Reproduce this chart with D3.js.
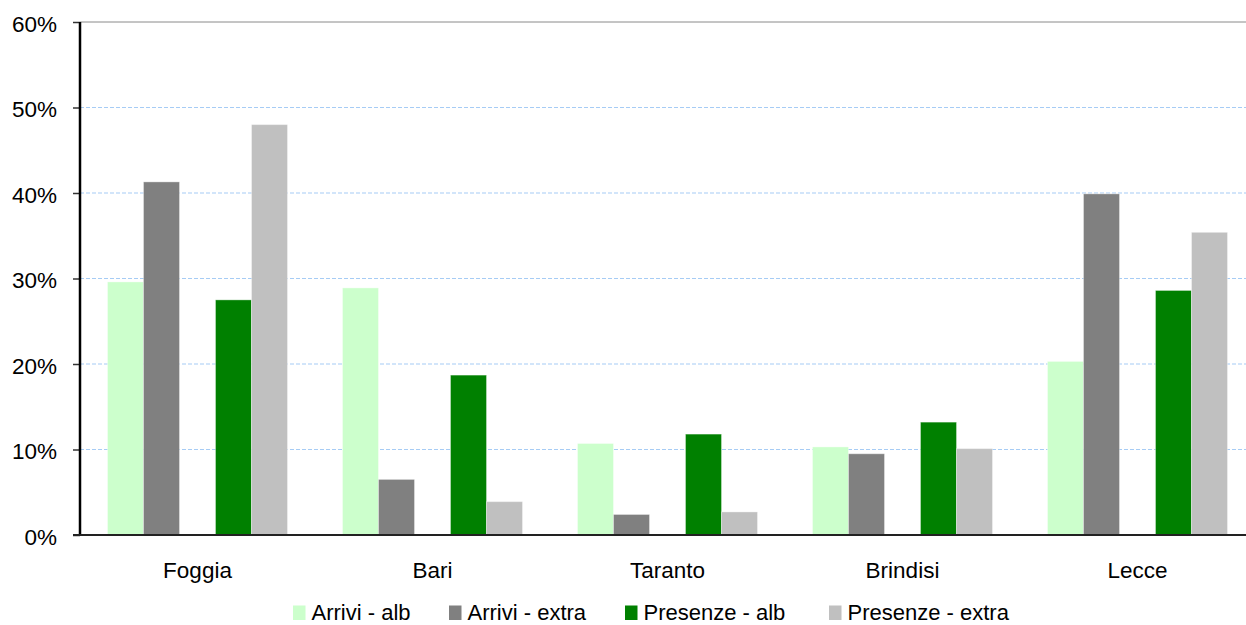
<!DOCTYPE html>
<html>
<head>
<meta charset="utf-8">
<script src="https://cdn.jsdelivr.net/npm/d3@7"></script>
<style>
  html, body { margin: 0; padding: 0; background: #fff; }
  svg text { font-family: "Liberation Sans", Arial, sans-serif; fill: #000; }
</style>
</head>
<body>
<svg id="chart" width="1246" height="625"></svg>
<script>
const categories = ["Foggia", "Bari", "Taranto", "Brindisi", "Lecce"];
const seriesNames = ["Arrivi - alb", "Arrivi - extra", "Presenze - alb", "Presenze - extra"];
const seriesColors = ["#CCFFCC", "#808080", "#008000", "#C0C0C0"];
const arriviAlb = [29.6, 28.9, 10.7, 10.3, 20.3];
const arriviExtra = [41.3, 6.5, 2.4, 9.5, 39.9];
const presenzeAlb = [27.5, 18.7, 11.8, 13.2, 28.6];
const presenzeExtra = [48.0, 3.9, 2.7, 10.1, 35.4];
const yTicks = [0, 10, 20, 30, 40, 50, 60];
const seriesValues = [arriviAlb, arriviExtra, presenzeAlb, presenzeExtra];
// slot layout: two arrivi bars, an empty slot, two presenze bars
const slots = ["Arrivi - alb", "Arrivi - extra", "_gap", "Presenze - alb", "Presenze - extra"];

const svg = d3.select("#chart");
const mLeft = 80, mRight = 1255, mTop = 22, mBottom = 535;

const x = d3.scaleBand().domain(categories).range([mLeft, mRight])
  .paddingInner(0.234).paddingOuter(0.117);
const xs = d3.scaleBand().domain(slots).range([0, x.bandwidth()]);
const y = d3.scaleLinear().domain([0, 60]).range([mBottom, mTop]);

// gridlines
svg.append("g").selectAll("line").data(yTicks.filter(t => t > 0 && t < 60)).join("line")
  .attr("x1", mLeft).attr("x2", 1246)
  .attr("y1", d => y(d)).attr("y2", d => y(d))
  .attr("stroke", "#A6CCF5").attr("stroke-width", 1.2).attr("stroke-dasharray", "4,2");
svg.append("line").attr("x1", mLeft).attr("x2", 1246).attr("y1", y(60)).attr("y2", y(60))
  .attr("stroke", "#8a8a8a").attr("stroke-width", 1);

// bars
const data = [];
categories.forEach((c, i) => seriesNames.forEach((s, j) => data.push({c, s, j, v: seriesValues[j][i]})));
svg.append("g").selectAll("rect").data(data).join("rect")
  .attr("x", d => x(d.c) + xs(d.s))
  .attr("width", xs.bandwidth())
  .attr("y", d => y(d.v))
  .attr("height", d => y(0) - y(d.v))
  .attr("fill", d => seriesColors[d.j])
  .attr("stroke", "rgba(255,255,255,0.35)").attr("stroke-width", 1);

// y axis
const yAxis = d3.axisLeft(y).tickValues(yTicks).tickFormat(d => d + "%").tickSize(7).tickPadding(16);
const ya = svg.append("g").attr("transform", `translate(${mLeft},0)`).call(yAxis);
ya.select(".domain").remove();
ya.selectAll(".tick line").attr("stroke", "#333").attr("stroke-width", 1.5);
ya.selectAll(".tick text").attr("font-size", "22.5px").attr("dy", "0.42em")
  .style("font-family", "'Liberation Sans', Arial, sans-serif");
svg.append("line").attr("x1", mLeft).attr("x2", mLeft).attr("y1", mTop).attr("y2", mBottom + 1)
  .attr("stroke", "#000").attr("stroke-width", 2.5);

// x axis baseline
svg.append("line").attr("x1", mLeft - 7).attr("x2", 1246).attr("y1", mBottom).attr("y2", mBottom)
  .attr("stroke", "#222").attr("stroke-width", 2);

// category labels
const xAxis = d3.axisBottom(x).tickSize(0).tickPadding(0);
const xa = svg.append("g").attr("transform", `translate(0,${mBottom})`).call(xAxis);
xa.select(".domain").remove();
xa.selectAll(".tick text").attr("font-size", "22.5px").attr("dy", "0").attr("y", 43)
  .style("font-family", "'Liberation Sans', Arial, sans-serif");

// legend
const legendX = [293, 449, 625, 829];
const lg = svg.append("g").selectAll("g").data(seriesNames).join("g")
  .attr("transform", (d, i) => `translate(${legendX[i]},0)`);
lg.append("rect").attr("x", 0).attr("y", 605.5).attr("width", 12.5).attr("height", 14.5)
  .attr("fill", (d, i) => seriesColors[i]);
lg.append("text").attr("x", 18.5).attr("y", 620).attr("font-size", "22px").text(d => d);
</script>
</body>
</html>
